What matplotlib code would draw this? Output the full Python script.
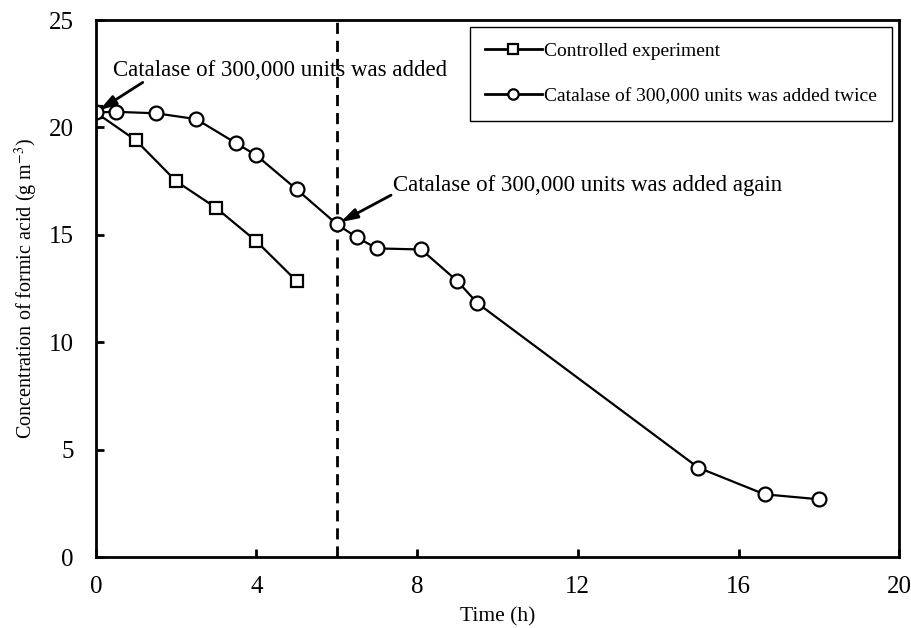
import matplotlib.pyplot as plt

plt.rcParams['font.family'] = ['Liberation Serif', 'DejaVu Serif']
plt.rcParams['mathtext.fontset'] = 'stix'

# controlled run (no extra catalase)
t_ctrl = [0, 1, 2, 3, 4, 5]
c_ctrl = [20.7, 19.4, 17.5, 16.25, 14.7, 12.85]

# catalase dosed at t=0 and again at t=6 h
t_twice = [0, 0.5, 1.5, 2.5, 3.5, 4.0, 5.0, 6.0, 6.5, 7.0, 8.1, 9.0, 9.5, 15.0, 16.65, 18.0]
c_twice = [20.7, 20.73, 20.66, 20.39, 19.26, 18.7, 17.12, 15.5, 14.88, 14.37, 14.32, 12.85, 11.82, 4.16, 2.92, 2.69]

x_ticks = [0, 4, 8, 12, 16, 20]
y_ticks = [0, 5, 10, 15, 20, 25]
second_dose = 6

fig = plt.figure(figsize=(9.12, 6.28), dpi=100)
ax = fig.add_axes([0.105, 0.113, 0.881, 0.855])

ax.plot(t_ctrl, c_ctrl, color='black', lw=1.6, marker='s', ms=9,
        mfc='white', mec='black', mew=1.6, label='Controlled experiment')
ax.plot(t_twice, c_twice, color='black', lw=1.6, marker='o', ms=10,
        mfc='white', mec='black', mew=1.6,
        label='Catalase of 300,000 units was added twice')

ax.axvline(second_dose, color='black', lw=2, ls=(0, (4, 2.5)), zorder=1)

# dosing notes: text and arrows placed separately
arrow = dict(arrowstyle='-|>,head_length=1.0,head_width=0.3', color='black',
             lw=2, shrinkA=0, shrinkB=3)
ax.text(0.42, 22.67, 'Catalase of 300,000 units was added', fontsize=16.5,
        va='center', ha='left')
ax.annotate('', xy=(t_twice[0], c_twice[0]), xytext=(1.17, 22.1),
            arrowprops=arrow, annotation_clip=False)
ax.text(7.4, 17.32, 'Catalase of 300,000 units was added again', fontsize=16.5,
        va='center', ha='left')
ax.annotate('', xy=(t_twice[7], c_twice[7]), xytext=(7.35, 16.85),
            arrowprops=arrow)

ax.set_xlim(0, 20)
ax.set_ylim(0, 25)
ax.set_xticks(x_ticks)
ax.set_yticks(y_ticks)
ax.tick_params(direction='in', length=6, width=2, labelsize=18)
ax.tick_params(axis='y', pad=16)
ax.tick_params(axis='x', pad=14)
for s in ax.spines.values():
    s.set_linewidth(2)

ax.set_xlabel('Time (h)', fontsize=15.5, labelpad=6)
ax.set_ylabel('Concentration of formic acid (g m$^{-3}$)', fontsize=14.5, labelpad=6)

leg = ax.legend(loc='upper right', bbox_to_anchor=(0.991, 0.987), borderaxespad=0,
                fontsize=14, fancybox=False, edgecolor='black', framealpha=1,
                handlelength=2.9, handletextpad=0.1, labelspacing=1.4,
                borderpad=0.8, markerscale=0.75)
leg.get_frame().set_linewidth(1)
for h in leg.legend_handles:
    h.set_linewidth(2)

fig.savefig('out.png', dpi=100)
